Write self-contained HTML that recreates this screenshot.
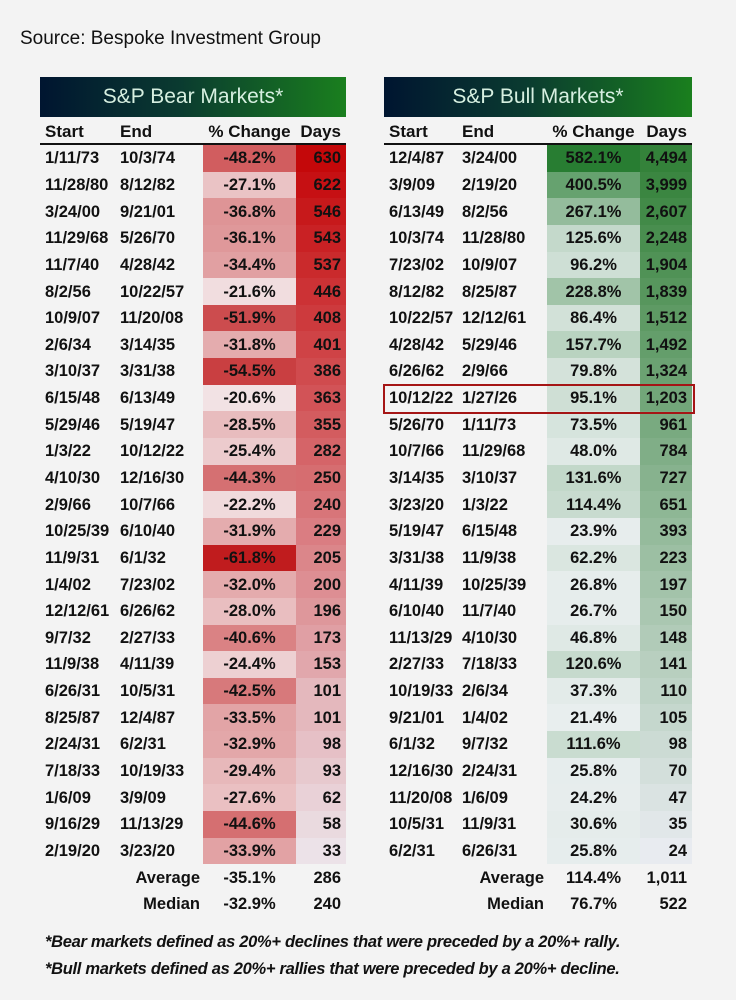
<!DOCTYPE html>
<html><head><meta charset="utf-8"><style>
body{margin:0;width:736px;height:1000px;background:#f3f3f3;position:relative;overflow:hidden;font-family:"Liberation Sans",sans-serif;color:#111}
.src{position:absolute;left:20px;top:28px;font-size:19px;color:#111}
.tb{position:absolute;top:77px}
.bar{height:40px;background:linear-gradient(90deg,#001530 0%,#0a3a30 45%,#1a7f1e 100%);color:#d6efe0;font-size:21px;text-align:center;line-height:40px}
table{border-collapse:collapse;table-layout:fixed;font-weight:bold;font-size:16.5px;margin-top:3px}
td{height:26.65px;padding:0;white-space:nowrap;line-height:26px}
tr.h td{height:23px;font-size:17px;border-bottom:2px solid #111;line-height:22px}
td.s{padding-left:5px}
td.p{text-align:center}
td.d{text-align:right;padding-right:5px}
.foot{position:absolute;left:45px;font-size:16.5px;font-style:italic;font-weight:bold;letter-spacing:-0.3px}
.box{position:absolute;left:383px;top:384px;width:308px;height:26px;border:2px solid #a51515}
</style></head><body>
<div class="src">Source: Bespoke Investment Group</div>

<div class="tb" style="left:40px;width:306px">
<div class="bar">S&amp;P Bear Markets*</div>
<table id="bear" style="width:306px">
<colgroup><col style="width:80px"><col style="width:83px"><col style="width:93px"><col style="width:50px"></colgroup>
<tr class="h"><td class="s">Start</td><td>End</td><td class="p">% Change</td><td class="d">Days</td></tr>
<tr><td class="s">1/11/73</td><td>10/3/74</td><td class="p">-48.2%</td><td class="d">630</td></tr>
<tr><td class="s">11/28/80</td><td>8/12/82</td><td class="p">-27.1%</td><td class="d">622</td></tr>
<tr><td class="s">3/24/00</td><td>9/21/01</td><td class="p">-36.8%</td><td class="d">546</td></tr>
<tr><td class="s">11/29/68</td><td>5/26/70</td><td class="p">-36.1%</td><td class="d">543</td></tr>
<tr><td class="s">11/7/40</td><td>4/28/42</td><td class="p">-34.4%</td><td class="d">537</td></tr>
<tr><td class="s">8/2/56</td><td>10/22/57</td><td class="p">-21.6%</td><td class="d">446</td></tr>
<tr><td class="s">10/9/07</td><td>11/20/08</td><td class="p">-51.9%</td><td class="d">408</td></tr>
<tr><td class="s">2/6/34</td><td>3/14/35</td><td class="p">-31.8%</td><td class="d">401</td></tr>
<tr><td class="s">3/10/37</td><td>3/31/38</td><td class="p">-54.5%</td><td class="d">386</td></tr>
<tr><td class="s">6/15/48</td><td>6/13/49</td><td class="p">-20.6%</td><td class="d">363</td></tr>
<tr><td class="s">5/29/46</td><td>5/19/47</td><td class="p">-28.5%</td><td class="d">355</td></tr>
<tr><td class="s">1/3/22</td><td>10/12/22</td><td class="p">-25.4%</td><td class="d">282</td></tr>
<tr><td class="s">4/10/30</td><td>12/16/30</td><td class="p">-44.3%</td><td class="d">250</td></tr>
<tr><td class="s">2/9/66</td><td>10/7/66</td><td class="p">-22.2%</td><td class="d">240</td></tr>
<tr><td class="s">10/25/39</td><td>6/10/40</td><td class="p">-31.9%</td><td class="d">229</td></tr>
<tr><td class="s">11/9/31</td><td>6/1/32</td><td class="p">-61.8%</td><td class="d">205</td></tr>
<tr><td class="s">1/4/02</td><td>7/23/02</td><td class="p">-32.0%</td><td class="d">200</td></tr>
<tr><td class="s">12/12/61</td><td>6/26/62</td><td class="p">-28.0%</td><td class="d">196</td></tr>
<tr><td class="s">9/7/32</td><td>2/27/33</td><td class="p">-40.6%</td><td class="d">173</td></tr>
<tr><td class="s">11/9/38</td><td>4/11/39</td><td class="p">-24.4%</td><td class="d">153</td></tr>
<tr><td class="s">6/26/31</td><td>10/5/31</td><td class="p">-42.5%</td><td class="d">101</td></tr>
<tr><td class="s">8/25/87</td><td>12/4/87</td><td class="p">-33.5%</td><td class="d">101</td></tr>
<tr><td class="s">2/24/31</td><td>6/2/31</td><td class="p">-32.9%</td><td class="d">98</td></tr>
<tr><td class="s">7/18/33</td><td>10/19/33</td><td class="p">-29.4%</td><td class="d">93</td></tr>
<tr><td class="s">1/6/09</td><td>3/9/09</td><td class="p">-27.6%</td><td class="d">62</td></tr>
<tr><td class="s">9/16/29</td><td>11/13/29</td><td class="p">-44.6%</td><td class="d">58</td></tr>
<tr><td class="s">2/19/20</td><td>3/23/20</td><td class="p">-33.9%</td><td class="d">33</td></tr>
<tr class="x"><td></td><td style="text-align:right;padding-right:3px">Average</td><td class="p">-35.1%</td><td class="d">286</td></tr>
<tr class="x"><td></td><td style="text-align:right;padding-right:3px">Median</td><td class="p">-32.9%</td><td class="d">240</td></tr>
</table></div>

<div class="tb" style="left:384px;width:308px">
<div class="bar">S&amp;P Bull Markets*</div>
<table id="bull" style="width:308px">
<colgroup><col style="width:78px"><col style="width:85px"><col style="width:93px"><col style="width:52px"></colgroup>
<tr class="h"><td class="s">Start</td><td>End</td><td class="p">% Change</td><td class="d">Days</td></tr>
<tr><td class="s">12/4/87</td><td>3/24/00</td><td class="p">582.1%</td><td class="d">4,494</td></tr>
<tr><td class="s">3/9/09</td><td>2/19/20</td><td class="p">400.5%</td><td class="d">3,999</td></tr>
<tr><td class="s">6/13/49</td><td>8/2/56</td><td class="p">267.1%</td><td class="d">2,607</td></tr>
<tr><td class="s">10/3/74</td><td>11/28/80</td><td class="p">125.6%</td><td class="d">2,248</td></tr>
<tr><td class="s">7/23/02</td><td>10/9/07</td><td class="p">96.2%</td><td class="d">1,904</td></tr>
<tr><td class="s">8/12/82</td><td>8/25/87</td><td class="p">228.8%</td><td class="d">1,839</td></tr>
<tr><td class="s">10/22/57</td><td>12/12/61</td><td class="p">86.4%</td><td class="d">1,512</td></tr>
<tr><td class="s">4/28/42</td><td>5/29/46</td><td class="p">157.7%</td><td class="d">1,492</td></tr>
<tr><td class="s">6/26/62</td><td>2/9/66</td><td class="p">79.8%</td><td class="d">1,324</td></tr>
<tr><td class="s">10/12/22</td><td>1/27/26</td><td class="p">95.1%</td><td class="d">1,203</td></tr>
<tr><td class="s">5/26/70</td><td>1/11/73</td><td class="p">73.5%</td><td class="d">961</td></tr>
<tr><td class="s">10/7/66</td><td>11/29/68</td><td class="p">48.0%</td><td class="d">784</td></tr>
<tr><td class="s">3/14/35</td><td>3/10/37</td><td class="p">131.6%</td><td class="d">727</td></tr>
<tr><td class="s">3/23/20</td><td>1/3/22</td><td class="p">114.4%</td><td class="d">651</td></tr>
<tr><td class="s">5/19/47</td><td>6/15/48</td><td class="p">23.9%</td><td class="d">393</td></tr>
<tr><td class="s">3/31/38</td><td>11/9/38</td><td class="p">62.2%</td><td class="d">223</td></tr>
<tr><td class="s">4/11/39</td><td>10/25/39</td><td class="p">26.8%</td><td class="d">197</td></tr>
<tr><td class="s">6/10/40</td><td>11/7/40</td><td class="p">26.7%</td><td class="d">150</td></tr>
<tr><td class="s">11/13/29</td><td>4/10/30</td><td class="p">46.8%</td><td class="d">148</td></tr>
<tr><td class="s">2/27/33</td><td>7/18/33</td><td class="p">120.6%</td><td class="d">141</td></tr>
<tr><td class="s">10/19/33</td><td>2/6/34</td><td class="p">37.3%</td><td class="d">110</td></tr>
<tr><td class="s">9/21/01</td><td>1/4/02</td><td class="p">21.4%</td><td class="d">105</td></tr>
<tr><td class="s">6/1/32</td><td>9/7/32</td><td class="p">111.6%</td><td class="d">98</td></tr>
<tr><td class="s">12/16/30</td><td>2/24/31</td><td class="p">25.8%</td><td class="d">70</td></tr>
<tr><td class="s">11/20/08</td><td>1/6/09</td><td class="p">24.2%</td><td class="d">47</td></tr>
<tr><td class="s">10/5/31</td><td>11/9/31</td><td class="p">30.6%</td><td class="d">35</td></tr>
<tr><td class="s">6/2/31</td><td>6/26/31</td><td class="p">25.8%</td><td class="d">24</td></tr>
<tr class="x"><td></td><td style="text-align:right;padding-right:3px">Average</td><td class="p">114.4%</td><td class="d">1,011</td></tr>
<tr class="x"><td></td><td style="text-align:right;padding-right:3px">Median</td><td class="p">76.7%</td><td class="d">522</td></tr>
</table></div>

<div class="box"></div>
<div class="foot" style="top:933px">*Bear markets defined as 20%+ declines that were preceded by a 20%+ rally.</div>
<div class="foot" style="top:960px">*Bull markets defined as 20%+ rallies that were preceded by a 20%+ decline.</div>

<script>
function mix(a,b,t){return 'rgb('+a.map((v,i)=>Math.round(v+(b[i]-v)*t)).join(',')+')';}
function color(id,col,lo,hi,useRank){
  var rows=[...document.querySelectorAll('#'+id+' tr:not(.h):not(.x)')];
  var vals=rows.map(r=>Math.abs(parseFloat(r.cells[col].textContent.replace(/[,%]/g,''))));
  var mn=Math.min(...vals),mx=Math.max(...vals);
  var sorted=[...vals].sort((a,b)=>a-b);
  rows.forEach((r,i)=>{var t=useRank?sorted.indexOf(vals[i])/(vals.length-1):(vals[i]-mn)/(mx-mn);
    r.cells[col].style.background=mix(lo,hi,t);});
}
color('bear',2,[242,226,228],[192,28,30],false);
color('bear',3,[236,226,232],[196,8,10],true);
color('bull',2,[232,238,238],[40,125,50],false);
color('bull',3,[232,235,240],[52,130,58],true);
</script>
</body></html>
